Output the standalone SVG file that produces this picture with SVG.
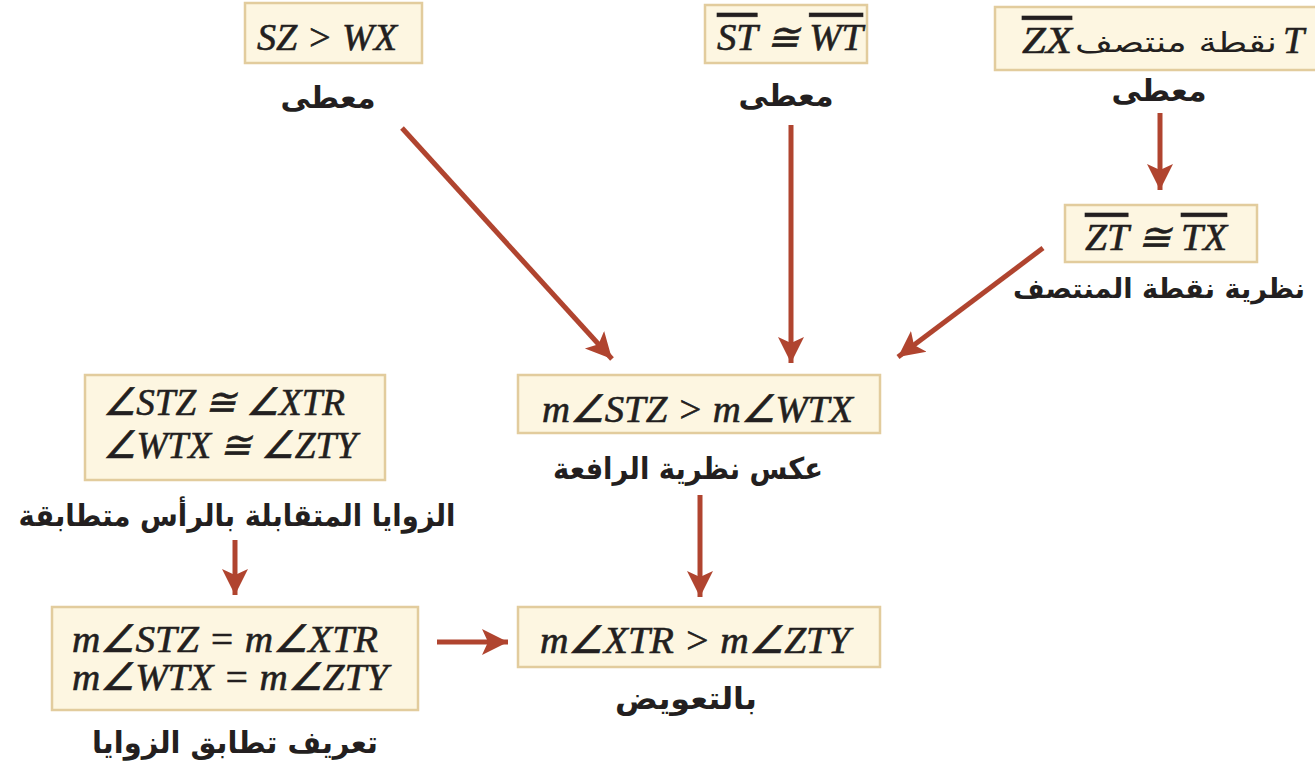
<svg xmlns="http://www.w3.org/2000/svg" width="1315" height="773" viewBox="0 0 1315 773">
<style>
.box{fill:#fdf6e1;stroke:#e2cc9d;stroke-width:2.5}
.m{font-family:'Liberation Serif','Times New Roman',Times,serif;font-style:italic;font-size:38px;fill:#231f20;stroke:#231f20;stroke-width:0.6}
.ar{font-family:'DejaVu Sans',sans-serif;font-weight:bold;font-size:30px;fill:#231f20;text-anchor:middle}
.arr{font-family:'DejaVu Sans',sans-serif;font-size:28px;fill:#231f20;text-anchor:middle}
.ov{text-decoration:overline}
.c{stroke:#b0442f;stroke-width:5;fill:none;marker-end:url(#ah)}
</style>
<defs>
<marker id="ah" markerUnits="userSpaceOnUse" markerWidth="30" markerHeight="30" viewBox="-26 -15 30 30" refX="0" refY="0" orient="auto">
<path d="M0,0 L-26,-13 L-20,0 L-26,13 Z" fill="#b0442f"/>
</marker>
</defs>
<rect width="1315" height="773" fill="#ffffff"/>
<g id="connectors">
<line class="c" x1="402" y1="128" x2="612" y2="359"/>
<line class="c" x1="791" y1="125" x2="791" y2="363"/>
<line class="c" x1="1043" y1="248" x2="898" y2="357"/>
<line class="c" x1="1160" y1="113" x2="1160" y2="190"/>
<line class="c" x1="700" y1="495" x2="700" y2="597"/>
<line class="c" x1="235" y1="540" x2="235" y2="595"/>
<line class="c" x1="437" y1="642" x2="508" y2="642"/>
</g>
<g id="n1">
<rect class="box" x="245" y="3" width="177" height="60"/>
<text class="m" x="257" y="50" textLength="140" lengthAdjust="spacingAndGlyphs">SZ &gt; WX</text>
<text class="ar" x="328" y="108">معطى</text>
</g>
<g id="n2">
<rect class="box" x="705" y="5" width="162" height="58"/>
<text class="m" x="717" y="50" textLength="146" lengthAdjust="spacingAndGlyphs"><tspan class="ov">ST</tspan> ≅ <tspan class="ov">WT</tspan></text>
<text class="ar" x="786" y="106">معطى</text>
</g>
<g id="n3">
<rect class="box" x="995" y="7" width="330" height="63"/>
<text class="m" x="1022" y="53" textLength="50" lengthAdjust="spacingAndGlyphs"><tspan class="ov">ZX</tspan></text>
<text class="arr" x="1176" y="52" textLength="202" lengthAdjust="spacingAndGlyphs">نقطة منتصف</text>
<text class="m" x="1283" y="53">T</text>
<text class="ar" x="1159" y="101">معطى</text>
</g>
<g id="n4">
<rect class="box" x="1065" y="205" width="192" height="57"/>
<text class="m" x="1085" y="250" textLength="142" lengthAdjust="spacingAndGlyphs"><tspan class="ov">ZT</tspan> ≅ <tspan class="ov">TX</tspan></text>
<text class="ar" x="1159" y="298" style="font-size:27px" textLength="292" lengthAdjust="spacingAndGlyphs">نظرية نقطة المنتصف</text>
</g>
<g id="n5">
<rect class="box" x="85" y="375" width="300" height="105"/>
<text class="m" x="103" y="415" textLength="242" lengthAdjust="spacingAndGlyphs">∠STZ ≅ ∠XTR</text>
<text class="m" x="103" y="458" textLength="254" lengthAdjust="spacingAndGlyphs">∠WTX ≅ ∠ZTY</text>
<text class="ar" x="237" y="526" textLength="437" lengthAdjust="spacingAndGlyphs">الزوايا المتقابلة بالرأس متطابقة</text>
</g>
<g id="n6">
<rect class="box" x="518" y="375" width="362" height="58"/>
<text class="m" x="542" y="422" textLength="311" lengthAdjust="spacingAndGlyphs">m∠STZ &gt; m∠WTX</text>
<text class="ar" x="688" y="479" textLength="270" lengthAdjust="spacingAndGlyphs">عكس نظرية الرافعة</text>
</g>
<g id="n7">
<rect class="box" x="52" y="607" width="366" height="103"/>
<text class="m" x="72" y="652" textLength="306" lengthAdjust="spacingAndGlyphs">m∠STZ = m∠XTR</text>
<text class="m" x="72" y="690" textLength="316" lengthAdjust="spacingAndGlyphs">m∠WTX = m∠ZTY</text>
<text class="ar" x="235" y="753" textLength="286" lengthAdjust="spacingAndGlyphs">تعريف تطابق الزوايا</text>
</g>
<g id="n8">
<rect class="box" x="518" y="607" width="362" height="60"/>
<text class="m" x="540" y="653" textLength="310" lengthAdjust="spacingAndGlyphs">m∠XTR &gt; m∠ZTY</text>
<text class="ar" x="686" y="709" textLength="142" lengthAdjust="spacingAndGlyphs">بالتعويض</text>
</g>
</svg>
